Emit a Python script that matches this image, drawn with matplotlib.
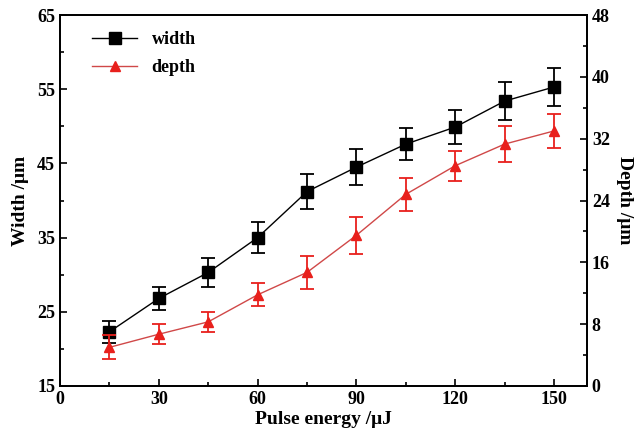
import matplotlib
matplotlib.use("Agg")
import matplotlib.pyplot as plt
from matplotlib.lines import Line2D
from matplotlib.ticker import MultipleLocator

plt.rcParams['font.family'] = ['Liberation Serif', 'DejaVu Serif']
plt.rcParams['font.weight'] = 'bold'

# pulse energy (uJ)
energy = [15, 30, 45, 60, 75, 90, 105, 120, 135, 150]
# groove width (um) and its error
width = [22.3, 26.8, 30.3, 35.0, 41.2, 44.5, 47.6, 49.9, 53.4, 55.3]
width_err = [1.45, 1.55, 1.9, 2.1, 2.4, 2.4, 2.2, 2.3, 2.6, 2.5]
# groove depth (um) and its error
depth = [5.0, 6.7, 8.3, 11.8, 14.7, 19.5, 24.8, 28.5, 31.3, 33.0]
depth_err = [1.55, 1.3, 1.3, 1.5, 2.1, 2.4, 2.1, 1.95, 2.3, 2.15]

red = '#e8201c'
red_line = '#d04848'

fig = plt.figure(figsize=(6.4, 4.38), dpi=100)
ax = fig.add_axes([60 / 640, 52 / 438, 527 / 640, 371 / 438])
ax2 = ax.twinx()

ax.errorbar(energy, width, yerr=width_err, color='black', marker='s', markersize=8,
            linewidth=1.0, elinewidth=1.3, capsize=5, capthick=1.3)
l2 = ax2.errorbar(energy, depth, yerr=depth_err, color=red, marker='^', markersize=7,
                  linewidth=1.0, elinewidth=1.3, capsize=5, capthick=1.3)
l2[0].set_color(red_line)
l2[0].set_markerfacecolor(red)
l2[0].set_markeredgecolor(red)

ax.set_xlim(0, 160)
ax.set_ylim(15, 65)
ax2.set_ylim(0, 48)
ax.xaxis.set_major_locator(MultipleLocator(30))
ax.xaxis.set_minor_locator(MultipleLocator(15))
ax.yaxis.set_major_locator(MultipleLocator(10, offset=5))
ax.yaxis.set_minor_locator(MultipleLocator(5))
ax2.yaxis.set_major_locator(MultipleLocator(8))
ax2.yaxis.set_minor_locator(MultipleLocator(4))

for a in (ax, ax2):
    a.tick_params(which='both', direction='in', labelsize=13, width=1.2)
    a.tick_params(which='major', length=5)
    a.tick_params(which='minor', length=3)
    for s in a.spines.values():
        s.set_linewidth(1.3)
ax.tick_params(axis='y', right=False, which='both')
ax.tick_params(axis='x', top=False, which='both')

ax.set_xlabel('Pulse energy /μJ', fontsize=14, fontweight='bold', labelpad=2)
ax.set_ylabel('Width /μm', fontsize=14, fontweight='bold', labelpad=6)
ax2.set_ylabel('Depth /μm', fontsize=14, fontweight='bold', rotation=270, labelpad=17)

handles = [Line2D([], [], color='black', marker='s', markersize=8, linewidth=1.0),
           Line2D([], [], color=red_line, marker='^', markersize=7, linewidth=1.0,
                  markerfacecolor=red, markeredgecolor=red)]
ax.legend(handles, ['width', 'depth'], loc='upper left', frameon=False, fontsize=13,
          bbox_to_anchor=(0.03, 1.0), handlelength=2.5, labelspacing=0.6)

fig.savefig('out.png', dpi=100)
